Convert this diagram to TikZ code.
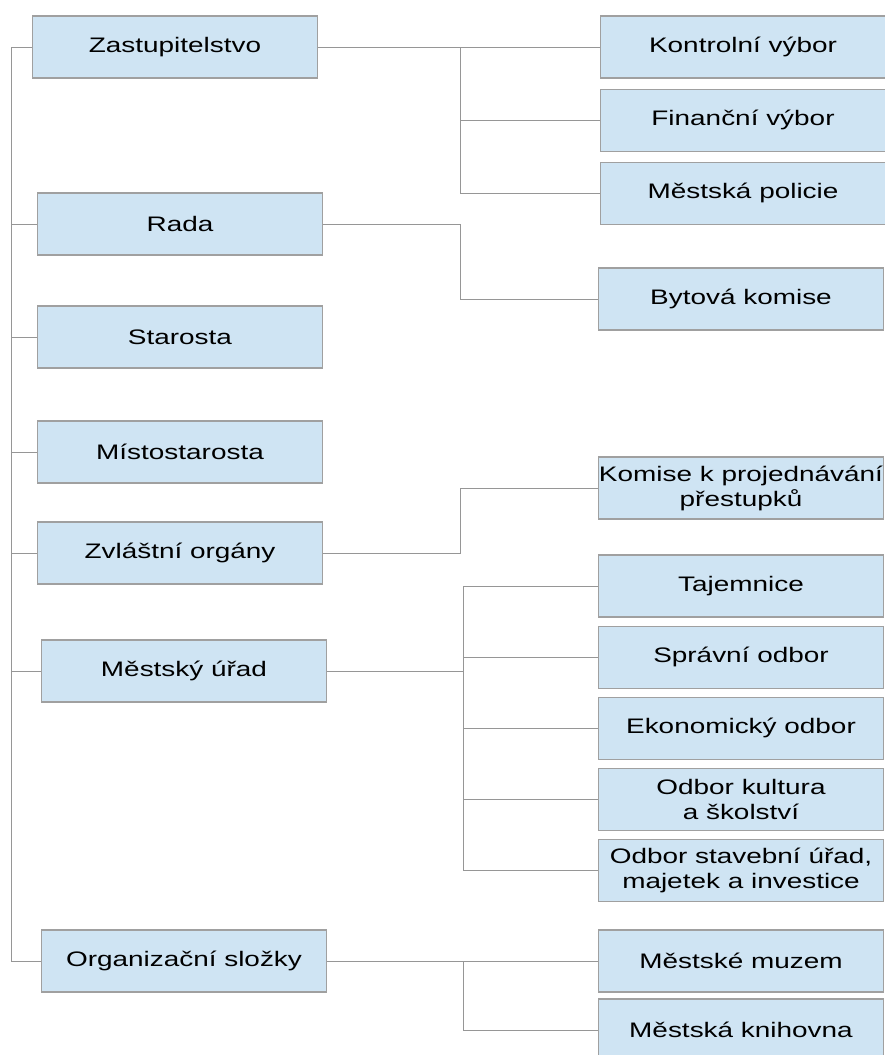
\documentclass[tikz,border=0pt]{standalone}
\usepackage{fontspec}
\setmainfont{Liberation Sans}[FakeStretch=1.33]
\usetikzlibrary{positioning}
\definecolor{boxfill}{RGB}{207,228,243}
\definecolor{boxline}{RGB}{160,160,160}
\definecolor{wire}{RGB}{150,150,150}

\begin{document}
\begin{tikzpicture}[x=1pt, y=-1pt, node distance=10pt]
  \tikzstyle{unit}=[rectangle, draw=boxline, fill=boxfill, line width=1.2pt,
    minimum width=285pt, minimum height=62pt, inner sep=0pt, align=center,
    font=\fontsize{21}{25}\selectfont]
  \tikzstyle{wirestyle}=[draw=wire, line width=1pt]
  \useasboundingbox (0,0) rectangle (884,1055);
  % left column
  \node[unit] (zast) at (175,47) {Zastupitelstvo};
  \node[unit] (rada) at (180,224) {Rada};
  \node[unit] (star) at (180,337) {Starosta};
  \node[unit] (mist) at (180,452) {Místostarosta};
  \node[unit] (zvl) at (180,553) {Zvláštní orgány};
  \node[unit] (mu) at (184,671) {Městský úřad};
  \node[unit] (org) at (184,961) {Organizační složky};
  % right column
  \node[unit] (kontrol) at (743,47) {Kontrolní výbor};
  \node[unit, below=of kontrol] (financ) {Finanční výbor};
  \node[unit, below=of financ] (policie) {Městská policie};
  \node[unit] (bytova) at (741,299) {Bytová komise};
  \node[unit] (komise) at (741,488) {Komise k projednávání\\přestupků};
  \node[unit] (tajem) at (741,586) {Tajemnice};
  \node[unit, below=8pt of tajem] (sprav) {Správní odbor};
  \node[unit, below=8pt of sprav] (ekon) {Ekonomický odbor};
  \node[unit, below=8pt of ekon] (kult) {Odbor kultura\\a školství};
  \node[unit, below=8pt of kult] (stav) {Odbor stavební úřad,\\majetek a investice};
  \node[unit] (muzeum) at (741,961) {Městské muzem};
  \node[unit] (knih) at (741,1030) {Městská knihovna};
  \coordinate (trunk) at (11,0);
  \coordinate (xa) at (460,0);
  \coordinate (xb) at (463,0);

  % trunk on the left
  \draw[wirestyle] (zast.west) -| (trunk |- org.west) -- (org.west);
  \foreach \n in {rada, star, mist, zvl, mu}
    \draw[wirestyle] (trunk |- \n.west) -- (\n.west);
  % zastupitelstvo
  \draw[wirestyle] (zast.east) -- (kontrol.west);
  \draw[wirestyle] (xa |- kontrol.west) |- (policie.west);
  \draw[wirestyle] (xa |- financ.west) -- (financ.west);
  % rada, zvlastni organy
  \draw[wirestyle] (rada.east) -| (xa |- bytova.west) -- (bytova.west);
  \draw[wirestyle] (zvl.east) -| (xa |- komise.west) -- (komise.west);
  % mestsky urad
  \draw[wirestyle] (mu.east) -- (xb |- mu.east);
  \draw[wirestyle] (tajem.west) -| (xb |- stav.west) -- (stav.west);
  \foreach \n in {sprav, ekon, kult}
    \draw[wirestyle] (xb |- \n.west) -- (\n.west);
  % organizacni slozky
  \draw[wirestyle] (org.east) -- (muzeum.west);
  \draw[wirestyle] (xb |- muzeum.west) |- (knih.west);
\end{tikzpicture}
\end{document}
